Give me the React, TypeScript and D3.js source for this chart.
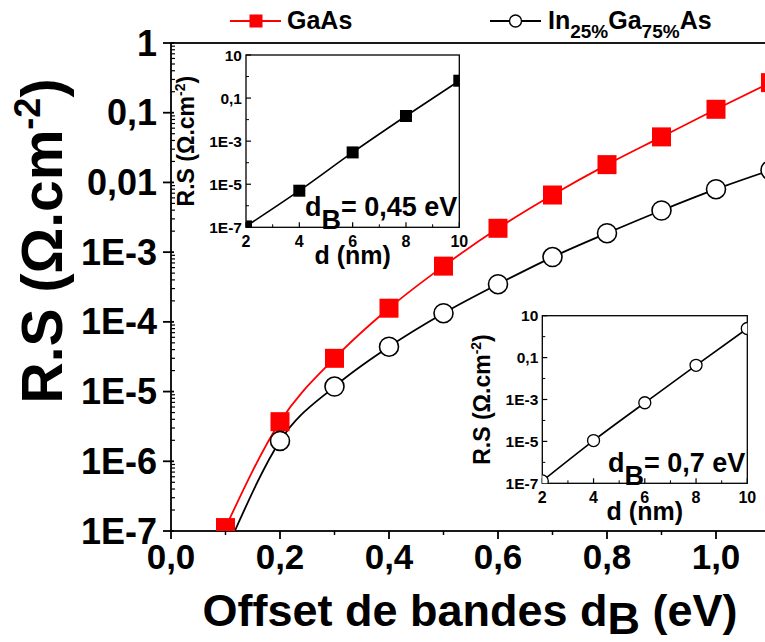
import React from "react";
import * as d3 from "d3";

const FONT = '"Liberation Sans", Arial, Helvetica, sans-serif';

// Main chart data
const gaX = [0.1, 0.2, 0.3, 0.4, 0.5, 0.6, 0.7, 0.8, 0.9, 1.0, 1.1];
const gaY = [1.12e-7, 3.7e-6, 3.0e-5, 1.57e-4, 6.3e-4, 2.2e-3, 6.6e-3, 0.018, 0.045, 0.112, 0.27];
const inX = [0.2, 0.3, 0.4, 0.5, 0.6, 0.7, 0.8, 0.9, 1.0, 1.1];
const inY = [1.96e-6, 1.18e-5, 4.4e-5, 1.33e-4, 3.47e-4, 8.5e-4, 1.87e-3, 3.96e-3, 8.0e-3, 0.015];
const inLineStart = [0.117, 1e-7];

const xTicks = [0, 0.2, 0.4, 0.6, 0.8, 1.0];
const xTickLabels = ["0,0", "0,2", "0,4", "0,6", "0,8", "1,0"];
const xMinor = [0.1, 0.3, 0.5, 0.7, 0.9];
const yTicks = [1, 0.1, 0.01, 1e-3, 1e-4, 1e-5, 1e-6, 1e-7];
const yTickLabels = ["1", "0,1", "0,01", "1E-3", "1E-4", "1E-5", "1E-6", "1E-7"];

// Inset 1 (dB = 0,45 eV)
const inset1D = [2, 4, 6, 8, 10];
const inset1Y = [1.1e-7, 5e-6, 3e-4, 0.0147, 0.64];
// Inset 2 (dB = 0,7 eV)
const inset2D = [2, 4, 6, 8, 10];
const inset2Y = [1.3e-7, 1.1e-5, 7e-4, 0.043, 2.45];

const insetXTicks = [2, 4, 6, 8, 10];
const insetXMinor = [3, 5, 7, 9];
const insetYTicks = [10, 0.1, 1e-3, 1e-5, 1e-7];
const insetYTickLabels = ["10", "0,1", "1E-3", "1E-5", "1E-7"];
const insetYMinor = [1, 0.01, 1e-4, 1e-6];

const RED = "#ff0000";

function Inset({ left, right, top, bottom, d, y, marker, id, dbText }: any) {
  const xs = d3.scaleLinear().domain([2, 10]).range([left, right]);
  const ys = d3.scaleLog().domain([1e-7, 10]).range([bottom, top]);
  const line = d3
    .line<number>()
    .x((_, i) => xs(d[i]))
    .y((v) => ys(v))
    .curve(d3.curveMonotoneX);
  return (
    <g>
      <defs>
        <clipPath id={id}>
          <rect x={left} y={top} width={right - left} height={bottom - top} />
        </clipPath>
      </defs>
      <rect x={left} y={top} width={right - left} height={bottom - top} fill="none" stroke="#000" strokeWidth={1.3} />
      {insetXTicks.map((t) => (
        <line key={"xt" + t} x1={xs(t)} x2={xs(t)} y1={bottom} y2={bottom - 5} stroke="#000" strokeWidth={1.2} />
      ))}
      {insetXMinor.map((t) => (
        <line key={"xm" + t} x1={xs(t)} x2={xs(t)} y1={bottom} y2={bottom - 3} stroke="#000" strokeWidth={1} />
      ))}
      {insetYTicks.map((t) => (
        <line key={"yt" + t} x1={left} x2={left + 5} y1={ys(t)} y2={ys(t)} stroke="#000" strokeWidth={1.2} />
      ))}
      {insetYMinor.map((t) => (
        <line key={"ym" + t} x1={left} x2={left + 3} y1={ys(t)} y2={ys(t)} stroke="#000" strokeWidth={1} />
      ))}
      {insetXTicks.map((t) => (
        <text key={"xl" + t} x={xs(t)} y={bottom + 20} textAnchor="middle" fontSize={16} fontWeight="bold" fontFamily={FONT}>
          {t}
        </text>
      ))}
      {insetYTicks.map((t, i) => (
        <text key={"yl" + t} x={left - 4} y={ys(t) + 5.5} textAnchor="end" fontSize={15.5} fontWeight="bold" fontFamily={FONT}>
          {insetYTickLabels[i]}
        </text>
      ))}
      <g clipPath={`url(#${id})`}>
        <path d={line(y) || ""} fill="none" stroke="#000" strokeWidth={1.6} />
        {d.map((dv: number, i: number) =>
          marker === "square" ? (
            <rect key={i} x={xs(dv) - 6} y={ys(y[i]) - 6} width={12} height={12} fill="#000" />
          ) : (
            <circle key={i} cx={xs(dv)} cy={ys(y[i])} r={6} fill="#fff" stroke="#000" strokeWidth={1.3} />
          )
        )}
      </g>
      <text
        transform={`translate(${left - 52},${(top + bottom) / 2}) rotate(-90)`}
        textAnchor="middle"
        fontSize={23}
        fontWeight="bold"
        fontFamily={FONT}
      >
        R.S (Ω.cm<tspan fontSize={14} dy={-9}>-2</tspan>
        <tspan dy={9}>)</tspan>
      </text>
      <text x={(left + right) / 2} y={bottom + 37} textAnchor="middle" fontSize={25} fontWeight="bold" fontFamily={FONT}>
        d (nm)
      </text>
      <text x={right - 2} y={bottom - 11} textAnchor="end" fontSize={27} fontWeight="bold" fontFamily={FONT}>
        d<tspan dy={13}>B</tspan>
        <tspan dy={-13}>{dbText}</tspan>
      </text>
    </g>
  );
}

export default function App() {
  const W = 765;
  const H = 642;
  const pl = 171;
  const pt = 43;
  const pb = 531;
  const x = d3.scaleLinear().domain([0, 1.1]).range([pl, pl + 545 * 1.1]);
  const y = d3.scaleLog().domain([1e-7, 1]).range([pb, pt]);
  const pr = x(1.1);

  const yMinor: number[] = [];
  for (let k = -7; k < 0; k++) {
    for (let m = 2; m <= 9; m++) yMinor.push(m * Math.pow(10, k));
  }

  const lineGen = d3
    .line<[number, number]>()
    .x((p) => x(p[0]))
    .y((p) => y(p[1]))
    .curve(d3.curveMonotoneX);

  const gaPts: [number, number][] = gaX.map((v, i) => [v, gaY[i]]);
  const inPts: [number, number][] = [[inLineStart[0], inLineStart[1]], ...inX.map((v, i) => [v, inY[i]] as [number, number])];

  return (
    <svg width={W} height={H} style={{ position: "absolute", left: 0, top: 0, background: "#fff" }}>
      <rect x={0} y={0} width={W} height={H} fill="#fff" />
      <defs>
        <clipPath id="mainclip">
          <rect x={pl} y={pt} width={pr - pl} height={pb - pt} />
        </clipPath>
      </defs>

      {/* frame */}
      <rect x={pl} y={pt} width={pr - pl} height={pb - pt} fill="none" stroke="#000" strokeWidth={1.8} />

      {/* x ticks */}
      {xTicks.map((t) => (
        <line key={"x" + t} x1={x(t)} x2={x(t)} y1={pb} y2={pb + 8} stroke="#000" strokeWidth={1.8} />
      ))}
      {xMinor.map((t) => (
        <line key={"xm" + t} x1={x(t)} x2={x(t)} y1={pb} y2={pb + 4} stroke="#000" strokeWidth={1.5} />
      ))}
      {xTicks.map((t, i) => (
        <text key={"xl" + t} x={x(t)} y={569} textAnchor="middle" fontSize={35} fontWeight="bold" fontFamily={FONT}>
          {xTickLabels[i]}
        </text>
      ))}

      {/* y ticks */}
      {yTicks.map((t) => (
        <line key={"y" + t} x1={pl - 8} x2={pl + 3} y1={y(t)} y2={y(t)} stroke="#000" strokeWidth={1.8} />
      ))}
      {yMinor.map((t) => (
        <line key={"ym" + t} x1={pl} x2={pl + 4} y1={y(t)} y2={y(t)} stroke="#000" strokeWidth={1.2} />
      ))}
      {yTicks.map((t, i) => (
        <text key={"yl" + t} x={157} y={y(t) + 12.5} textAnchor="end" fontSize={36} fontWeight="bold" fontFamily={FONT}>
          {yTickLabels[i]}
        </text>
      ))}

      {/* axis titles */}
      <text
        transform={`translate(62,241) rotate(-90)`}
        textAnchor="middle"
        fontSize={57}
        fontWeight="bold"
        fontFamily={FONT}
      >
        R.S (Ω.cm<tspan fontSize={36} dy={-22}>-2</tspan>
        <tspan dy={22}>)</tspan>
      </text>
      <text x={470} y={626} textAnchor="middle" fontSize={45} fontWeight="bold" fontFamily={FONT}>
        Offset de bandes d<tspan dy={8}>B</tspan>
        <tspan dy={-8}> (eV)</tspan>
      </text>

      {/* series */}
      <g clipPath="url(#mainclip)">
        <path d={lineGen(gaPts) || ""} fill="none" stroke={RED} strokeWidth={1.8} />
        <path d={lineGen(inPts) || ""} fill="none" stroke="#000" strokeWidth={1.8} />
        {gaX.map((v, i) => (
          <rect key={"g" + i} x={x(v) - 9.5} y={y(gaY[i]) - 9.5} width={19} height={19} fill={RED} />
        ))}
        {inX.map((v, i) => (
          <circle key={"c" + i} cx={x(v)} cy={y(inY[i])} r={9.5} fill="#fff" stroke="#000" strokeWidth={1.6} />
        ))}
      </g>

      {/* legend */}
      <line x1={230} x2={281} y1={21} y2={21} stroke={RED} strokeWidth={1.8} />
      <rect x={249.5} y={14.5} width={13} height={13} fill={RED} />
      <text x={287} y={29} fontSize={25} fontWeight="bold" fontFamily={FONT}>
        GaAs
      </text>
      <line x1={490} x2={541} y1={21} y2={21} stroke="#000" strokeWidth={1.8} />
      <circle cx={515.5} cy={21} r={6} fill="#fff" stroke="#000" strokeWidth={1.4} />
      <text x={548} y={29} fontSize={25} fontWeight="bold" fontFamily={FONT}>
        In<tspan fontSize={19} dy={9}>25%</tspan>
        <tspan dy={-9}>Ga</tspan>
        <tspan fontSize={19} dy={9}>75%</tspan>
        <tspan dy={-9}>As</tspan>
      </text>

      <Inset left={246} right={459.3} top={55} bottom={227.3} d={inset1D} y={inset1Y} marker="square" id="in1" dbText="= 0,45 eV" />
      <Inset left={542.3} right={747.3} top={315.7} bottom={483.3} d={inset2D} y={inset2Y} marker="circle" id="in2" dbText="= 0,7 eV" />
    </svg>
  );
}
